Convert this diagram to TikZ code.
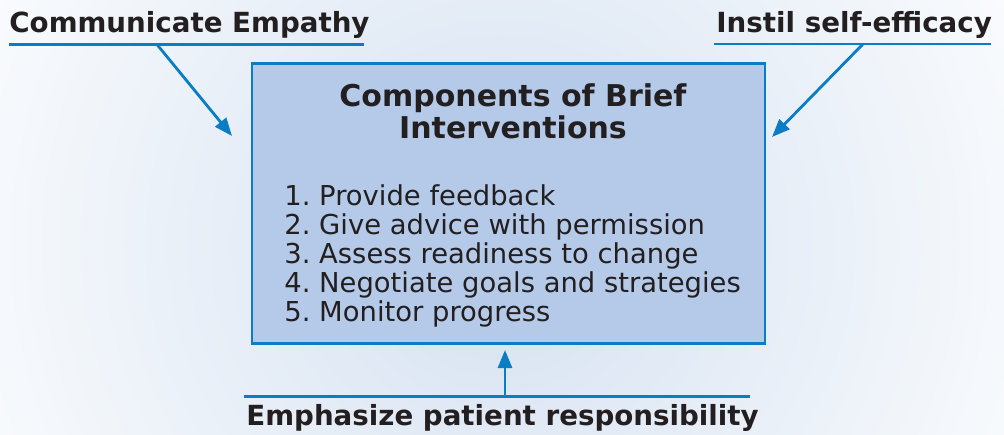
\documentclass[tikz,border=0pt]{standalone}
\usepackage{fontspec}
\setmainfont{DejaVu Sans}
\usepackage{tikz}
\usetikzlibrary{arrows.meta,positioning}

\definecolor{lineblue}{HTML}{0A7DC4}
\definecolor{boxfill}{HTML}{B4CAE8}
\definecolor{bgblue}{HTML}{D5E1F1}
\definecolor{bgedge}{HTML}{F9FBFD}
\definecolor{txt}{HTML}{231F20}

\begin{document}
\frenchspacing
\begin{tikzpicture}[x=1pt,y=1pt,line width=2.8pt,
    arr/.style={draw=lineblue,-{Triangle[length=18pt,width=14pt]}},
    label/.style={font=\bfseries\fontsize{27.7}{32}\selectfont,text=txt,inner sep=0pt,anchor=base west},
    rule/.style={draw=lineblue,line width=2.8pt}]
      % background
      \fill[bgedge] (0,0) rectangle (1004,434);
      \begin{scope}
        \clip (0,0) rectangle (1004,434);
        \shade[inner color=bgblue,outer color=bgedge] (500,190) circle (560);
      \end{scope}
      \useasboundingbox (0,0) rectangle (1004,434);
      % main box
      \node (comp) [draw=lineblue,fill=boxfill,line width=2.8pt,minimum width=513pt,minimum height=280pt] at (508.5,230.7) {};
      \node (title) [inner sep=0pt,text=txt,align=center,font=\bfseries\fontsize{30}{32}\selectfont,anchor=base] at (513,295) {Components of Brief\\Interventions};
      \node (list) [inner sep=0pt,anchor=north west,align=left,text=txt,font=\fontsize{27.4}{29}\selectfont] at (283,251)
        {1. Provide feedback\\2. Give advice with permission\\3. Assess readiness to change\\4. Negotiate goals and strategies\\5. Monitor progress};
      % labels
      \node (empathy) [label] at (8,401) {Communicate Empathy};
      \node (efficacy) [label] at (715,401) {Instil self-efficacy};
      \node (resp) [label] at (245,9) {Emphasize patient responsibility};
      \coordinate (e1) at (157,389.5);  \coordinate (e2) at (232,298);
      \coordinate (s1) at (863,390);    \coordinate (s2) at (772,297);
      \coordinate (r1) at (505,37.5);   \coordinate (r2) at (505,84);
      \draw[rule] (9,389.5) -- (364,389.5);
      \draw[rule] (713.7,390) -- (991,390);
      \draw[rule] (244,37.5) -- (750,37.5);
      \draw[arr] (e1) -- (e2);
      \draw[arr] (s1) -- (s2);
      \draw[arr] (r1) -- (r2);
\end{tikzpicture}
\end{document}
